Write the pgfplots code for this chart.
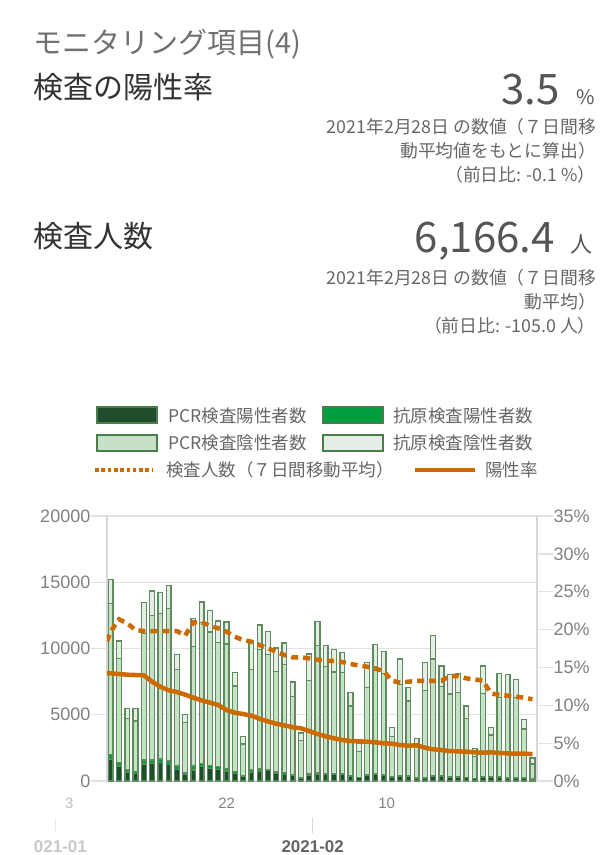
\documentclass[border=0pt]{standalone}
\usepackage{fontspec}
\usepackage{pgfplots}
\usepackage{pgfplotstable}
\pgfplotsset{compat=1.18}
\setmainfont{Noto Sans CJK JP}
\newfontfamily\lsans{Liberation Sans}
\definecolor{pcrpos}{RGB}{30,77,45}
\definecolor{agpos}{RGB}{0,158,62}
\definecolor{pcrneg}{RGB}{198,226,198}
\definecolor{agneg}{RGB}{228,238,228}
\definecolor{barline}{RGB}{95,140,95}
\definecolor{lgline}{RGB}{75,125,75}
\definecolor{orng}{RGB}{204,106,0}
\definecolor{gridc}{RGB}{226,226,226}
\definecolor{axc}{RGB}{215,215,215}
\definecolor{tickc}{RGB}{128,128,128}
\definecolor{txtd}{RGB}{51,51,51}
\definecolor{txtm}{RGB}{102,102,102}
\definecolor{txtl}{RGB}{112,112,112}
\definecolor{bignum}{RGB}{85,85,85}
\definecolor{lab1}{RGB}{190,190,190}
\definecolor{lab2}{RGB}{130,130,130}
\definecolor{mt1}{RGB}{235,235,235}
\definecolor{mt2}{RGB}{215,215,215}
\definecolor{ml1}{RGB}{200,200,200}
\definecolor{ml2}{RGB}{100,100,100}
\newcommand{\fs}[1]{\fontsize{#1}{#1}\selectfont}

\pgfplotstableread{
i pp ap pn an
0 1660 330 11419 1811
1 1132 250 7876 1308
2 654 176 3900 754
3 553 176 3799 956
4 1283 300 9561 2340
5 1333 250 10895 1861
6 1384 280 10990 1585
7 1233 280 11518 1736
8 880 250 7298 1106
9 478 126 3824 603
10 830 300 9033 2088
11 1082 250 10643 1534
12 931 250 10064 1610
13 880 200 9385 1610
14 755 200 9384 1661
15 579 150 6441 1006
16 327 100 2365 579
17 654 176 7598 2087
18 704 200 9033 1836
19 780 100 8679 1736
20 579 100 7572 1787
21 503 150 8152 1610
22 428 75 5887 1082
23 201 50 2793 579
24 453 126 6993 2013
25 528 100 9586 1811
26 520 60 8049 1585
27 480 60 7686 1711
28 480 60 7636 1535
29 380 60 5220 1006
30 250 40 1924 603
31 420 60 6564 1887
32 470 60 8099 1685
33 400 60 7666 1635
34 300 50 3021 679
35 330 60 6905 1912
36 320 60 5658 1031
37 230 40 2573 377
38 230 60 6527 2139
39 370 60 8777 1761
40 330 60 6729 1560
41 280 60 6226 1484
42 240 60 6366 1460
43 240 50 4440 930
44 170 40 1626 629
45 250 60 6306 2063
46 250 50 3172 578
47 250 60 5979 1811
48 230 60 6074 1686
49 230 60 6024 1333
50 200 50 3674 730
51 150 40 1093 453
}\bars

\pgfplotstableread{
i tests pct
-1 9700 14.30
0 11270 14.22
1 12200 14.13
2 11899 14.04
3 11396 14.00
4 11320 13.96
5 11320 13.12
6 11320 12.46
7 11320 11.98
8 11320 11.75
9 10980 11.40
10 11975 11.01
11 11975 10.65
12 11723 10.35
13 11522 10.04
14 11270 9.38
15 10893 9.03
16 10641 8.85
17 10515 8.63
18 10264 8.23
19 10012 7.88
20 9761 7.57
21 9509 7.35
22 9333 7.10
23 9333 6.96
24 9258 6.60
25 9157 6.21
26 9082 5.90
27 9056 5.64
28 8981 5.42
29 8830 5.28
30 8729 5.24
31 8629 5.19
32 8478 5.11
33 8302 4.98
34 7572 4.93
35 7421 4.75
36 7497 4.67
37 7547 4.71
38 7572 4.40
39 7547 4.18
40 7572 4.09
41 7924 3.96
42 7924 3.92
43 7748 3.87
44 7673 3.79
45 7572 3.74
46 6616 3.79
47 6490 3.70
48 6440 3.65
49 6364 3.61
50 6289 3.61
51 6166 3.55
}\lines

\begin{document}
\begin{tikzpicture}
\path[use as bounding box] (0pt,0pt) rectangle (616pt,-855pt);
% ---------- header ----------
\node[anchor=base west, inner sep=0pt, text=txtl] at (33pt,-53pt) {\fs{29}モニタリング項目(4)};
\node[anchor=base west, inner sep=0pt, text=txtd] at (33pt,-98pt) {\fs{30}検査の陽性率};
\node[anchor=base east, inner sep=0pt, text=bignum] at (560pt,-104pt) {\fs{42}3.5};
\node[anchor=base east, inner sep=0pt, text=bignum] at (595pt,-104pt) {\fs{20}\%};
\node[anchor=base east, inner sep=0pt, text=txtm] at (596pt,-133pt) {\fs{17.8}2021年2月28日 の数値（７日間移};
\node[anchor=base east, inner sep=0pt, text=txtm] at (596pt,-157pt) {\fs{17.8}動平均値をもとに算出）};
\node[anchor=base east, inner sep=0pt, text=txtm] at (596pt,-181pt) {\fs{17.8}（前日比: -0.1 \%）};
\node[anchor=base west, inner sep=0pt, text=txtd] at (33pt,-247pt) {\fs{30}検査人数};
\node[anchor=base east, inner sep=0pt, text=bignum] at (555pt,-252pt) {\fs{42}6,166.4};
\node[anchor=base east, inner sep=0pt, text=bignum] at (593pt,-252pt) {\fs{22}人};
\node[anchor=base east, inner sep=0pt, text=txtm] at (596pt,-284pt) {\fs{17.8}2021年2月28日 の数値（７日間移};
\node[anchor=base east, inner sep=0pt, text=txtm] at (596pt,-308pt) {\fs{17.8}動平均）};
\node[anchor=base east, inner sep=0pt, text=txtm] at (596pt,-332pt) {\fs{17.8}（前日比: -105.0 人）};
% ---------- legend ----------
\filldraw[fill=pcrpos, draw=lgline, line width=1.3pt] (97pt,-407pt) rectangle (157pt,-423pt);
\node[anchor=base west, inner sep=0pt, text=txtm] at (168pt,-422pt) {\fs{17.5}PCR検査陽性者数};
\filldraw[fill=agpos, draw=lgline, line width=1.3pt] (323pt,-407pt) rectangle (383pt,-423pt);
\node[anchor=base west, inner sep=0pt, text=txtm] at (393pt,-422pt) {\fs{17.5}抗原検査陽性者数};
\filldraw[fill=pcrneg, draw=lgline, line width=1.3pt] (97pt,-435pt) rectangle (157pt,-451pt);
\node[anchor=base west, inner sep=0pt, text=txtm] at (168pt,-449pt) {\fs{17.5}PCR検査陰性者数};
\filldraw[fill=agneg, draw=lgline, line width=1.3pt] (323pt,-435pt) rectangle (383pt,-451pt);
\node[anchor=base west, inner sep=0pt, text=txtm] at (393pt,-449pt) {\fs{17.5}抗原検査陰性者数};
\draw[orng, line width=4pt, dash pattern=on 3.6pt off 2.7pt] (95pt,-470pt) -- (152pt,-470pt);
\node[anchor=base west, inner sep=0pt, text=txtm] at (166pt,-476pt) {\fs{17.5}検査人数（７日間移動平均）};
\draw[orng, line width=4.5pt] (415pt,-470pt) -- (475pt,-470pt);
\node[anchor=base west, inner sep=0pt, text=txtm] at (485pt,-476pt) {\fs{17.5}陽性率};
% ---------- bars (left axis) ----------
\begin{axis}[
  at={(107pt,-781pt)}, anchor=south west, scale only axis,
  width=430pt, height=265pt,
  xmin=-0.45, xmax=51.55, ymin=0, ymax=20000,
  ybar stacked, bar width=0.58,
  xtick=\empty,
  ytick={0,5000,10000,15000,20000},
  ymajorgrids, grid style={draw=gridc, line width=1.3pt},
  axis y line*=left, axis x line*=bottom,
  axis line style={draw=axc, line width=1.3pt},
  tick align=outside, major tick length=16pt,
  ytick style={draw=gridc, line width=1.3pt},
  yticklabel style={font=\lsans\fs{18}, text=tickc, inner sep=0.5pt},
  /pgf/number format/assume math mode=true,
  /pgf/number format/set thousands separator={},
  scaled y ticks=false,
]
\addplot[fill=pcrpos, draw=barline, line width=1.3pt] table[x=i,y=pp]{\bars};
\addplot[fill=agpos, draw=barline, line width=1.3pt] table[x=i,y=ap]{\bars};
\addplot[fill=pcrneg, draw=barline, line width=1.3pt] table[x=i,y=pn]{\bars};
\addplot[fill=agneg, draw=barline, line width=1.3pt] table[x=i,y=an]{\bars};
\end{axis}
% ---------- 7-day average tests (left scale) ----------
\begin{axis}[
  at={(107pt,-781pt)}, anchor=south west, scale only axis,
  width=430pt, height=265pt,
  xmin=-0.45, xmax=51.55, ymin=0, ymax=20000,
  hide axis,
]
\addplot[orng, line width=4.5pt, dash pattern=on 7pt off 5pt, no marks] table[x=i,y=tests]{\lines};
\end{axis}
% ---------- positivity rate (right axis) ----------
\begin{axis}[
  at={(107pt,-781pt)}, anchor=south west, scale only axis,
  width=430pt, height=265pt,
  xmin=-0.45, xmax=51.55, ymin=0, ymax=35,
  axis y line*=right, axis x line=none,
  y axis line style={draw=axc, line width=2.5pt},
  ytick={0,5,10,15,20,25,30,35},
  tick align=outside, major tick length=16pt,
  ytick style={draw=gridc, line width=1.3pt},
  yticklabel={\pgfmathprintnumber{\tick}\%},
  yticklabel style={font=\lsans\fs{18}, text=tickc, inner sep=0.5pt},
  /pgf/number format/assume math mode=true,
]
\addplot[orng, line width=4.5pt, no marks] table[x=i,y=pct]{\lines};
\end{axis}
% ---------- x labels ----------
\node[anchor=base, inner sep=0pt, text=lab1] at (69.3pt,-808pt) {\lsans\fs{15}3};
\node[anchor=base, inner sep=0pt, text=lab2] at (226.7pt,-808pt) {\lsans\fs{15}22};
\node[anchor=base, inner sep=0pt, text=lab2] at (386.7pt,-808pt) {\lsans\fs{15}10};
\draw[mt1, line width=1.5pt] (55.7pt,-818pt) -- (55.7pt,-833pt);
\draw[mt2, line width=1.5pt] (312.7pt,-818pt) -- (312.7pt,-833pt);
\begin{scope}
\clip (33pt,-836pt) rectangle (120pt,-855pt);
\node[anchor=base, inner sep=0pt, text=ml1] at (55.7pt,-852pt) {\lsans\bfseries\fs{17}2021-01};
\end{scope}
\node[anchor=base, inner sep=0pt, text=ml2] at (312.7pt,-852pt) {\lsans\bfseries\fs{17}2021-02};
\end{tikzpicture}
\end{document}
